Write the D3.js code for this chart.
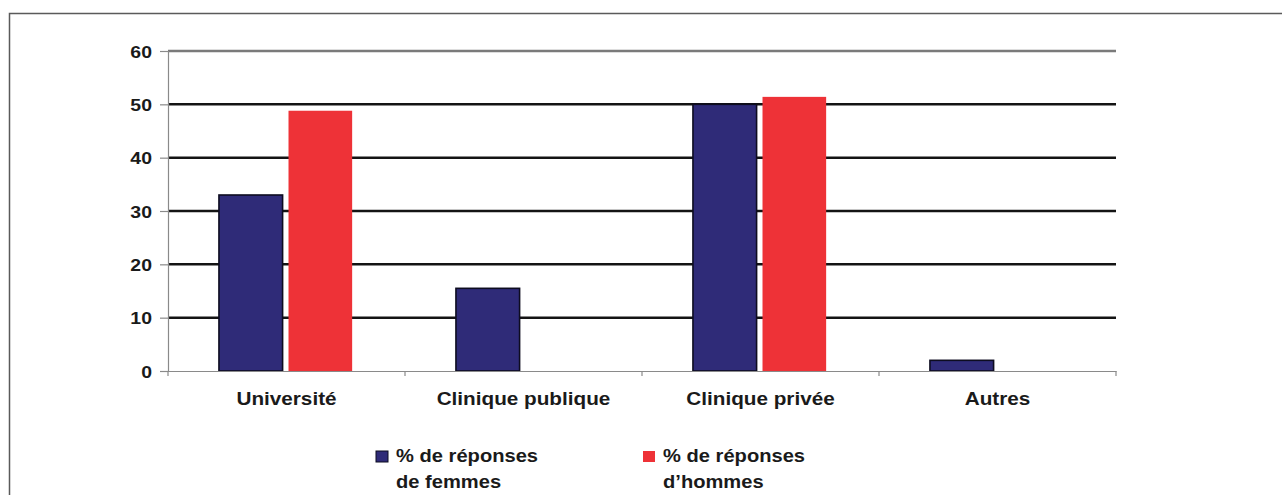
<!DOCTYPE html>
<html>
<head>
<meta charset="utf-8">
<script src="https://cdn.jsdelivr.net/npm/d3@7"></script>
<style>
  html, body { margin: 0; padding: 0; background: #ffffff; }
  svg { display: block; }
  text { font-family: "Liberation Sans", Arial, Helvetica, sans-serif; font-weight: bold; fill: #1a1a1a; }
</style>
</head>
<body>
<svg id="chart" width="1282" height="495"></svg>
<script>
// Lieu d'exercice : pourcentage de réponses par sexe
const categories = ["Université", "Clinique publique", "Clinique privée", "Autres"];
const seriesKeys = ["femmes", "hommes"];
const femmes = [33, 15.5, 50, 2];
const hommes = [48.8, 0, 51.4, 0];
const yTicks = [0, 10, 20, 30, 40, 50, 60];
const legendLabels = [["% de réponses", "de femmes"], ["% de réponses", "d\u2019hommes"]];
const colors = { femmes: "#2f2b78", hommes: "#ee3237" };

const svg = d3.select("#chart");

// cadre extérieur (ouvert à droite et en bas)
svg.append("path")
  .attr("d", "M9.5,500 V13.5 H1290")
  .attr("fill", "none")
  .attr("stroke", "#5a5a5a")
  .attr("stroke-width", 1.5);

const plot = { left: 168, right: 1116, top: 51, bottom: 371 };

const x0 = d3.scaleBand().domain(categories).range([plot.left, plot.right]).padding(0);
const bw = x0.bandwidth();
const x1 = d3.scaleBand().domain(seriesKeys).range([bw * 0.215, bw * 0.777]).paddingInner(0.085);
const y = d3.scaleLinear().domain([0, 60]).range([plot.bottom, plot.top]);

// lignes de quadrillage horizontales
svg.append("g")
  .selectAll("line")
  .data(yTicks.filter(v => v > 0))
  .join("line")
  .attr("x1", plot.left)
  .attr("x2", plot.right)
  .attr("y1", d => y(d))
  .attr("y2", d => y(d))
  .attr("stroke", d => d === 60 ? "#7a7a7a" : "#141414")
  .attr("stroke-width", 2.5);

// axe vertical
const yAxis = svg.append("g")
  .attr("transform", `translate(${plot.left},0)`)
  .call(d3.axisLeft(y).tickValues(yTicks).tickSize(8).tickPadding(10).tickFormat(d3.format("d")));
yAxis.select(".domain").attr("stroke", "#8a8a8a").attr("stroke-width", 1.2);
yAxis.selectAll(".tick line").attr("stroke", "#8a8a8a").attr("stroke-width", 1.2);
yAxis.selectAll(".tick text")
  .attr("fill", "#1a1a1a")
  .style("font-size", "16.5px")
  .style("font-family", "'Liberation Sans', Arial, sans-serif")
  .style("font-weight", "bold")
  .attr("x", null)
  .attr("dy", null)
  .attr("transform", "translate(-16,6) scale(1.18,1)");

// barres
const groups = svg.append("g")
  .selectAll("g")
  .data(categories.map((c, i) => ({ cat: c, femmes: femmes[i], hommes: hommes[i] })))
  .join("g")
  .attr("transform", d => `translate(${x0(d.cat)},0)`);

groups.selectAll("rect")
  .data(d => seriesKeys.map(k => ({ key: k, value: d[k] })).filter(e => e.value > 0))
  .join("rect")
  .attr("x", d => x1(d.key))
  .attr("width", x1.bandwidth())
  .attr("y", d => y(d.value))
  .attr("height", d => y(0) - y(d.value))
  .attr("fill", d => colors[d.key])
  .attr("stroke", d => d.key === "femmes" ? "#0d0c20" : "none")
  .attr("stroke-width", 1.6);

// axe horizontal
const xAxis = svg.append("g")
  .attr("transform", `translate(0,${plot.bottom})`)
  .call(d3.axisBottom(x0).tickSize(0).tickPadding(0).tickFormat(""));
xAxis.select(".domain").attr("stroke", "#8a8a8a").attr("stroke-width", 1.2);
xAxis.selectAll(".tick").remove();

// petites graduations entre catégories
svg.append("g")
  .selectAll("line")
  .data(categories.map(c => x0(c)).concat([plot.right]))
  .join("line")
  .attr("x1", d => d).attr("x2", d => d)
  .attr("y1", plot.bottom).attr("y2", plot.bottom + 5)
  .attr("stroke", "#8a8a8a").attr("stroke-width", 1.2);

// libellés des catégories
svg.append("g")
  .selectAll("text")
  .data(categories)
  .join("text")
  .attr("text-anchor", "middle")
  .style("font-size", "18.5px")
  .attr("transform", d => `translate(${x0(d) + bw / 2},405) scale(1.12,1)`)
  .text(d => d);

// légende
const legend = svg.append("g")
  .selectAll("g")
  .data(seriesKeys.map((k, i) => ({ key: k, lines: legendLabels[i] })))
  .join("g")
  .attr("transform", (d, i) => `translate(${i === 0 ? 376 : 643},0)`);

legend.append("rect")
  .attr("x", 0).attr("y", 451)
  .attr("width", 12).attr("height", 11)
  .attr("fill", d => colors[d.key])
  .attr("stroke", d => d.key === "femmes" ? "#0d0c20" : "none")
  .attr("stroke-width", 1);

legend.each(function (d) {
  const g = d3.select(this);
  d.lines.forEach((line, j) => {
    g.append("text")
      .attr("transform", `translate(20,${462 + j * 26}) scale(1.06,1)`)
      .style("font-size", "19px")
      .text(line);
  });
});
</script>
</body>
</html>
